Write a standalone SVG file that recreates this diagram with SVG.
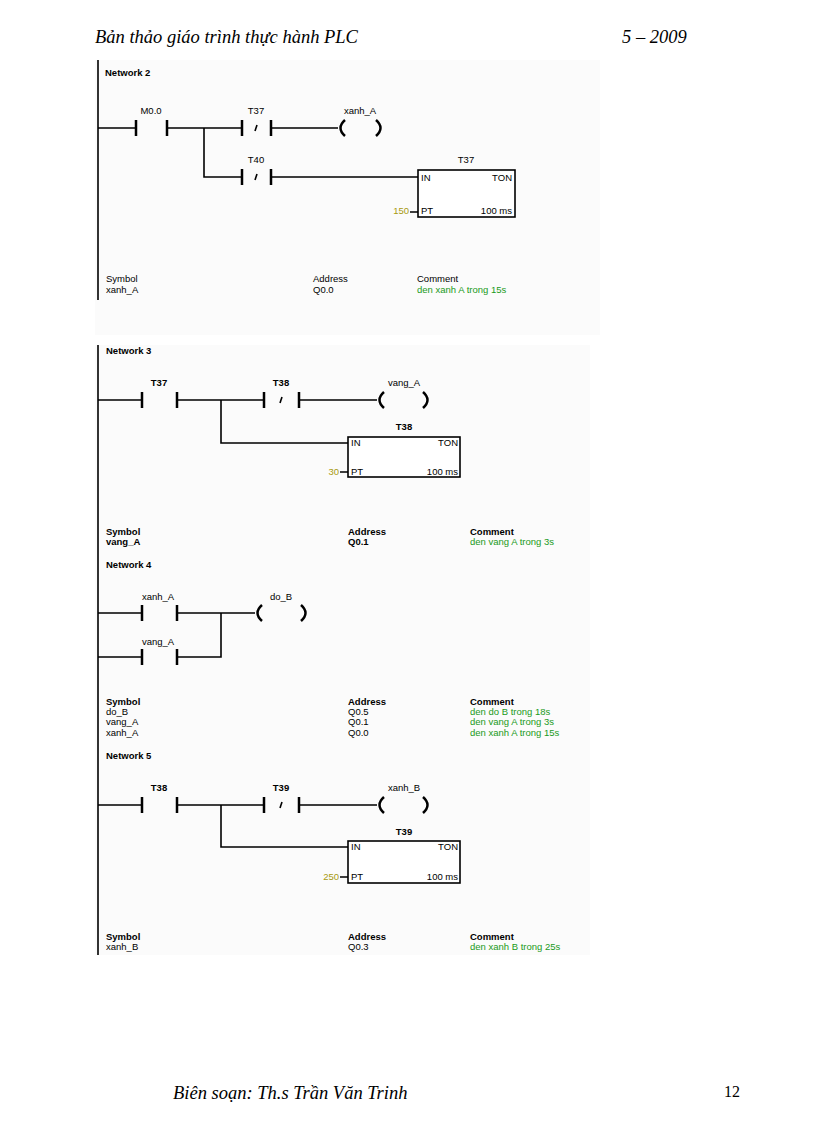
<svg xmlns="http://www.w3.org/2000/svg" width="816" height="1123" viewBox="0 0 816 1123">
<style>
.h{font-family:"Liberation Serif",serif;font-style:italic;font-size:18.5px;fill:#000}
.t{font-family:"Liberation Sans",Arial,sans-serif;font-size:9.5px;fill:#000}
.b{font-weight:bold}
.g{fill:#1a9a1a}
.y{fill:#a89a10}
.w{stroke:#000;stroke-width:1.6;fill:none}
.c{stroke:#000;stroke-width:2.5;fill:none}
.bx{stroke:#000;stroke-width:1.6;fill:#fff}
</style>
<rect width="816" height="1123" fill="#fff"/>
<rect x="95" y="60" width="505" height="275" fill="#fbfbfb"/>
<rect x="95" y="345" width="495" height="610" fill="#fbfbfb"/>
<text class="h" x="95" y="43">Bản thảo giáo trình thực hành PLC</text>
<text class="h" x="622" y="43">5 – 2009</text>
<text class="h" x="173" y="1099">Biên soạn: Th.s Trần Văn Trinh</text>
<text x="724" y="1097" style="font-family:'Liberation Serif',serif;font-size:16px">12</text>
<g id="rails">
<line class="w" x1="98" y1="60" x2="98" y2="300" stroke-width="2"/>
<line class="w" x1="98" y1="345" x2="98" y2="955" stroke-width="2"/>
</g>
<g id="connectors">
<path class="w" d="M98 128H136M167 128H242M271 128H338M204 128V177H242M271 177H418M410 212H418"/>
<path class="w" d="M98 400H142M177 400H264M299 400H377M221 400V443H348M340 472H348"/>
<path class="w" d="M98 613H142M177 613H255M98 657H142M177 657H221V613"/>
<path class="w" d="M98 805H142M177 805H264M299 805H377M221 805V847H348M340 877H348"/>
</g>
<g id="n2">
<text class="t b" x="105" y="76">Network 2</text>
<g id="n2_M00"><path class="c" d="M136 120V136M167 120V136"/><text class="t" x="151" y="114" text-anchor="middle">M0.0</text></g>
<g id="n2_T37c"><path class="c" d="M242 120V136M271 120V136"/><path class="w" d="M255 131L257 125" stroke-width="1"/><text class="t" x="256" y="114" text-anchor="middle">T37</text></g>
<g id="n2_coil"><path class="c" d="M345 120Q336 128 345 136M376 120Q385 128 376 136"/><text class="t" x="360" y="114" text-anchor="middle">xanh_A</text></g>
<g id="n2_T40c"><path class="c" d="M242 169V185M271 169V185"/><path class="w" d="M255 180L257 174" stroke-width="1"/><text class="t" x="256" y="163" text-anchor="middle">T40</text></g>
<g id="n2_T37"><rect class="bx" x="418" y="170" width="97" height="47"/><text class="t" x="466" y="163" text-anchor="middle">T37</text><text class="t" x="421" y="181">IN</text><text class="t" x="512" y="181" text-anchor="end">TON</text><text class="t" x="421" y="214">PT</text><text class="t" x="512" y="214" text-anchor="end">100 ms</text><text class="t y" x="409" y="214" text-anchor="end">150</text></g>
<g id="n2_tab"><text class="t" x="106" y="282">Symbol</text><text class="t" x="106" y="293">xanh_A</text><text class="t" x="313" y="282">Address</text><text class="t" x="313" y="293">Q0.0</text><text class="t" x="417" y="282">Comment</text><text class="t g" x="417" y="293">den xanh A trong 15s</text></g>
</g>
<g id="n3">
<text class="t b" x="106" y="354">Network 3</text>
<g id="n3_T37c"><path class="c" d="M142 392V408M177 392V408"/><text class="t b" x="159" y="386" text-anchor="middle">T37</text></g>
<g id="n3_T38c"><path class="c" d="M264 392V408M299 392V408"/><path class="w" d="M280 403L282 397" stroke-width="1"/><text class="t b" x="281" y="386" text-anchor="middle">T38</text></g>
<g id="n3_coil"><path class="c" d="M384 392Q375 400 384 408M423 392Q432 400 423 408"/><text class="t" x="404" y="386" text-anchor="middle">vang_A</text></g>
<g id="n3_T38"><rect class="bx" x="348" y="437" width="112" height="40"/><text class="t b" x="404" y="430" text-anchor="middle">T38</text><text class="t" x="351" y="446">IN</text><text class="t" x="458" y="446" text-anchor="end">TON</text><text class="t" x="351" y="475">PT</text><text class="t" x="458" y="475" text-anchor="end">100 ms</text><text class="t y" x="339" y="475" text-anchor="end">30</text></g>
<g id="n3_tab"><text class="t b" x="106" y="535">Symbol</text><text class="t b" x="106" y="545">vang_A</text><text class="t b" x="348" y="535">Address</text><text class="t b" x="348" y="545">Q0.1</text><text class="t b" x="470" y="535">Comment</text><text class="t g" x="470" y="545">den vang A trong 3s</text></g>
</g>
<g id="n4">
<text class="t b" x="106" y="568">Network 4</text>
<g id="n4_xanhA"><path class="c" d="M142 605V621M177 605V621"/><text class="t" x="158" y="600" text-anchor="middle">xanh_A</text></g>
<g id="n4_coil"><path class="c" d="M262 605Q253 613 262 621M301 605Q310 613 301 621"/><text class="t" x="281" y="600" text-anchor="middle">do_B</text></g>
<g id="n4_vangA"><path class="c" d="M142 649V665M177 649V665"/><text class="t" x="158" y="645" text-anchor="middle">vang_A</text></g>
<g id="n4_tab"><text class="t b" x="106" y="705">Symbol</text><text class="t" x="106" y="715">do_B</text><text class="t" x="106" y="725">vang_A</text><text class="t" x="106" y="736">xanh_A</text><text class="t b" x="348" y="705">Address</text><text class="t" x="348" y="715">Q0.5</text><text class="t" x="348" y="725">Q0.1</text><text class="t" x="348" y="736">Q0.0</text><text class="t b" x="470" y="705">Comment</text><text class="t g" x="470" y="715">den do B trong 18s</text><text class="t g" x="470" y="725">den vang A trong 3s</text><text class="t g" x="470" y="736">den xanh A trong 15s</text></g>
</g>
<g id="n5">
<text class="t b" x="106" y="759">Network 5</text>
<g id="n5_T38c"><path class="c" d="M142 797V813M177 797V813"/><text class="t b" x="159" y="791" text-anchor="middle">T38</text></g>
<g id="n5_T39c"><path class="c" d="M264 797V813M299 797V813"/><path class="w" d="M280 808L282 802" stroke-width="1"/><text class="t b" x="281" y="791" text-anchor="middle">T39</text></g>
<g id="n5_coil"><path class="c" d="M384 797Q375 805 384 813M423 797Q432 805 423 813"/><text class="t" x="404" y="791" text-anchor="middle">xanh_B</text></g>
<g id="n5_T39"><rect class="bx" x="348" y="841" width="112" height="42"/><text class="t b" x="404" y="835" text-anchor="middle">T39</text><text class="t" x="351" y="850">IN</text><text class="t" x="458" y="850" text-anchor="end">TON</text><text class="t" x="351" y="880">PT</text><text class="t" x="458" y="880" text-anchor="end">100 ms</text><text class="t y" x="339" y="880" text-anchor="end">250</text></g>
<g id="n5_tab"><text class="t b" x="106" y="940">Symbol</text><text class="t" x="106" y="950">xanh_B</text><text class="t b" x="348" y="940">Address</text><text class="t" x="348" y="950">Q0.3</text><text class="t b" x="470" y="940">Comment</text><text class="t g" x="470" y="950">den xanh B trong 25s</text></g>
</g>
</svg>
